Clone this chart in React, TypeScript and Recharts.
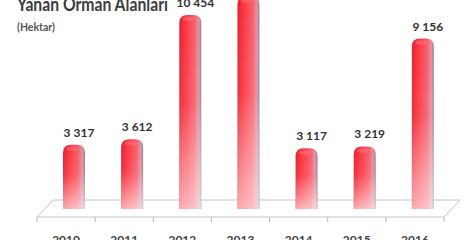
import React from 'react';
import { BarChart, Bar, XAxis, YAxis, LabelList, Customized } from 'recharts';

const years = ['2010', '2011', '2012', '2013', '2014', '2015', '2016'];
const burnedArea = [3317, 3612, 10454, 11456, 3117, 3219, 9156];
const valueLabels = ['3 317', '3 612', '10 454', '11 456', '3 117', '3 219', '9 156'];
const title = 'Yanan Orman Alanları';
const unit = '(Hektar)';

const data = years.map((y, i) => ({ year: y, value: burnedArea[i], label: valueLabels[i] }));

const W = 466;
const H = 240;
const M = { top: 0, right: 22, bottom: 1, left: 37 };
const XH = 30;
const DEPTH_X = 16;
const DEPTH_Y = 17;
const SHIFT = 8;
const FONT = 'Lato, "Open Sans", "DejaVu Sans", sans-serif';

const Floor = () => {
  const left = M.left;
  const right = W - M.right;
  const front = H - M.bottom - XH + 8;
  const back = front - DEPTH_Y;
  const n = years.length;
  const step = (right - left) / n;
  const ticks = Array.from({ length: n + 1 }, (_, i) => left + i * step);
  return (
    <g>
      <path
        d={`M${left},${front} L${left + DEPTH_X},${back} L${right + DEPTH_X},${back} L${right},${front} Z`}
        fill="#ffffff"
        stroke="#c4c4c4"
        strokeWidth={1}
      />
      {ticks.map((t, i) => (
        <line key={i} x1={t} y1={front} x2={t} y2={front + 5} stroke="#b8b8b8" strokeWidth={1} />
      ))}
      <text x={17} y={11} fontFamily={FONT} fontWeight={700} fontSize={18} fill="#3c3c3c" textLength={151} lengthAdjust="spacingAndGlyphs">
        {title}
      </text>
      <text x={17} y={31} fontFamily={FONT} fontWeight={700} fontSize={10.5} fill="#555555">
        {unit}
      </text>
    </g>
  );
};

const BarShape = (props: any) => {
  const { x, y, width, height } = props;
  if (height == null || isNaN(height)) return null;
  const bx = x + SHIFT;
  const top = y - 4;
  const bottom = y + height;
  const r = 8;
  const d = `M${bx},${bottom} L${bx},${top + r} Q${bx},${top} ${bx + r},${top} L${bx + width - r},${top} Q${bx + width},${top} ${bx + width},${top + r} L${bx + width},${bottom} Z`;
  return (
    <g>
      <path d={d} fill="url(#barH)" />
      <path d={d} fill="url(#barV)" />
      <ellipse cx={bx + width * 0.45} cy={top + 4} rx={width * 0.3} ry={2.2} fill="#ff7078" opacity={0.6} />
    </g>
  );
};

const ValueLabel = (props: any) => {
  const { x, y, width, value } = props;
  return (
    <text
      x={x + width / 2 + SHIFT + 5}
      y={y - 12}
      textAnchor="middle"
      fontFamily={FONT}
      fontWeight={700}
      fontSize={12}
      fill="#333333"
    >
      {value}
    </text>
  );
};

const YearTick = (props: any) => {
  const { x, payload } = props;
  return (
    <text x={x} y={H + 4} textAnchor="middle" fontFamily={FONT} fontWeight={700} fontSize={12} fill="#444444">
      {payload.value}
    </text>
  );
};

export default function App() {
  return (
    <div style={{ position: 'absolute', left: 0, top: 0, width: W, height: H, background: '#ffffff' }}>
      <BarChart width={W} height={H} data={data} margin={M}>
        <defs>
          <linearGradient id="barH" x1="0" y1="0" x2="1" y2="0">
            <stop offset="0%" stopColor="#e4202e" />
            <stop offset="35%" stopColor="#ff3a46" />
            <stop offset="70%" stopColor="#f4606e" />
            <stop offset="88%" stopColor="#e890a0" />
            <stop offset="100%" stopColor="#8e8494" />
          </linearGradient>
          <linearGradient id="barV" x1="0" y1="0" x2="0" y2="1">
            <stop offset="0%" stopColor="#ffffff" stopOpacity={0} />
            <stop offset="45%" stopColor="#ffffff" stopOpacity={0.08} />
            <stop offset="100%" stopColor="#ffffff" stopOpacity={0.62} />
          </linearGradient>
        </defs>
        <Customized component={Floor} />
        <XAxis dataKey="year" height={XH} axisLine={false} tickLine={false} tick={<YearTick />} interval={0} />
        <YAxis hide domain={[0, 11500]} allowDataOverflow />
        <Bar dataKey="value" barSize={22} isAnimationActive={false} shape={<BarShape />}>
          <LabelList dataKey="label" content={<ValueLabel />} />
        </Bar>
      </BarChart>
    </div>
  );
}
